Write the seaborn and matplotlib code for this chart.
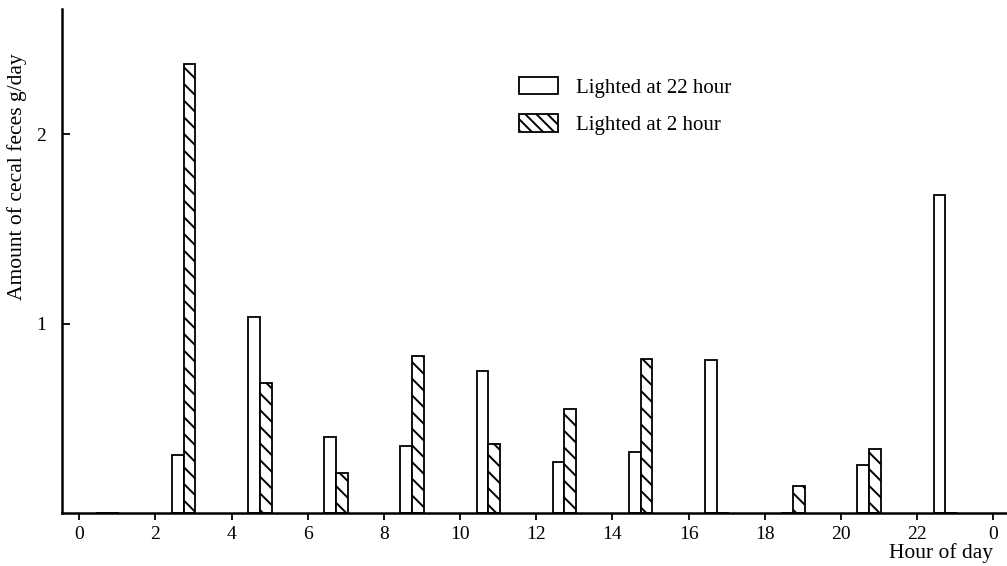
import matplotlib
matplotlib.use("Agg")
import matplotlib.pyplot as plt
import matplotlib.patches as mpatches
import seaborn as sns
import pandas as pd

# ---- data ----
hours = [1, 3, 5, 7, 9, 11, 13, 15, 17, 19, 21, 23]
lighted_22 = [0.0, 0.305, 1.036, 0.40, 0.353, 0.749, 0.27, 0.325, 0.81, 0.0, 0.253, 1.68]
lighted_2 = [0.0, 2.37, 0.686, 0.214, 0.828, 0.368, 0.549, 0.816, 0.0, 0.144, 0.341, 0.0]
series_names = ["Lighted at 22 hour", "Lighted at 2 hour"]
xtick_values = [0, 2, 4, 6, 8, 10, 12, 14, 16, 18, 20, 22, 24]
xtick_labels = ["0", "2", "4", "6", "8", "10", "12", "14", "16", "18", "20", "22", "0"]
ytick_values = [1, 2]
ytick_labels = ["1", "2"]

df = pd.DataFrame({
    "hour": hours * 2,
    "amount": lighted_22 + lighted_2,
    "group": [series_names[0]] * len(hours) + [series_names[1]] * len(hours),
})
pair_offset = -0.26  # pair centre sits slightly before the collection hour
df["xpos"] = df["hour"] + pair_offset

sns.set_style("ticks")
plt.rcParams["font.family"] = ["Liberation Serif", "DejaVu Serif"]
plt.rcParams["hatch.linewidth"] = 1.4
plt.rcParams["hatch.color"] = "black"
plt.rcParams["text.color"] = "black"
plt.rcParams["axes.labelcolor"] = "black"
plt.rcParams["xtick.color"] = "black"
plt.rcParams["ytick.color"] = "black"
plt.rcParams["axes.edgecolor"] = "black"

W, H = 1007, 566
fig = plt.figure(figsize=(W / 100, H / 100), dpi=100)
ax = fig.add_axes([61.7 / W, 1 - 513.3 / H, (W - 61.7) / W, (513.3 - 9) / H])

sns.barplot(data=df, x="xpos", y="amount", hue="group", hue_order=series_names,
            native_scale=True, width=0.31, dodge=True, errorbar=None,
            palette=["white", "white"], edgecolor="black", linewidth=1.3,
            saturation=1, legend=False, ax=ax)

for patch in ax.containers[1]:
    patch.set_hatch("\\\\")

ax.set_xlim(-0.463, 24.36)
ax.set_ylim(0, 2.66)

ax.set_xticks(xtick_values)
ax.set_xticklabels(xtick_labels)
ax.set_yticks(ytick_values)
ax.set_yticklabels(ytick_labels)

ax.tick_params(axis="x", direction="out", length=5, width=1.3, pad=4, labelsize=14,
               colors="black")
ax.tick_params(axis="y", direction="in", length=6, width=1.3, pad=11, labelsize=14,
               colors="black")

for s in ["top", "right"]:
    ax.spines[s].set_visible(False)
for s in ["left", "bottom"]:
    ax.spines[s].set_linewidth(1.8)
    ax.spines[s].set_color("black")

ax.set_xlabel("Hour of day", fontsize=15.5, ha="right", va="center", color="black")
ax.xaxis.set_label_coords((993 - 61.7) / (W - 61.7), (513.3 - 553) / 504.3)
ax.set_ylabel("Amount of cecal feces g/day", fontsize=15.5, ha="center", va="center",
              color="black")
ax.yaxis.set_label_coords((16.7 - 61.7) / (W - 61.7), (513.3 - 176.5) / 504.3)

handles = [
    mpatches.Patch(facecolor="white", edgecolor="black", linewidth=1.3, label=series_names[0]),
    mpatches.Patch(facecolor="white", edgecolor="black", linewidth=1.3, hatch="\\\\\\",
                   label=series_names[1]),
]
ax.legend(handles=handles, loc="upper left", bbox_to_anchor=(519 / W, 1 - 77 / H),
          bbox_transform=fig.transFigure, frameon=False, fontsize=15,
          handlelength=1.87, handleheight=0.9, handletextpad=0.87,
          labelspacing=0.8, borderpad=0, borderaxespad=0, labelcolor="black")

fig.savefig("out.png", dpi=100)
